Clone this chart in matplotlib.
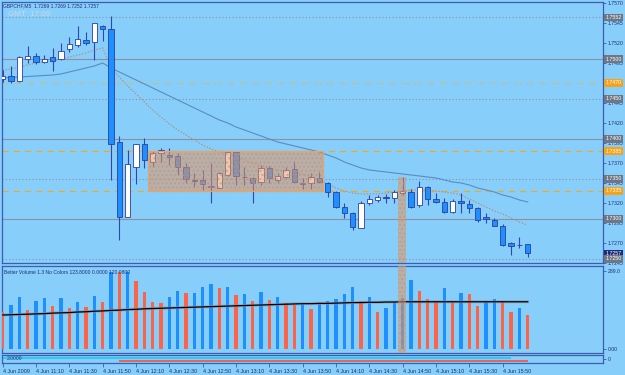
import matplotlib
matplotlib.use("Agg")
import matplotlib.pyplot as plt
import matplotlib.transforms as mtransforms
from matplotlib.patches import Rectangle

plt.rcParams["font.family"] = ["Liberation Sans", "DejaVu Sans"]

# ---------------- data ----------------
symbol_title = "GBPCHF,M5  1.7269 1.7269 1.7252 1.7257"
gmt_text = "GMT  17:09"

opens = [1.7475, 1.7479, 1.7472, 1.7500, 1.7504, 1.7496, 1.7503, 1.7500, 1.7513, 1.7518,
         1.7524, 1.7521, 1.7541, 1.7537, 1.7396, 1.7302, 1.7365, 1.7394, 1.7371, 1.7383,
         1.7380, 1.7379, 1.7365, 1.7349, 1.7349, 1.7340, 1.7339, 1.7355, 1.7384, 1.7353,
         1.7351, 1.7346, 1.7364, 1.7349, 1.7353, 1.7363, 1.7345, 1.7345, 1.7351, 1.7345,
         1.7334, 1.7315, 1.7308, 1.7289, 1.7320, 1.7324, 1.7328, 1.7326, 1.7333, 1.7334,
         1.7318, 1.7340, 1.7325, 1.7321, 1.7309, 1.7323, 1.7319, 1.7314, 1.7303, 1.7299,
         1.7291, 1.7270, 1.7268, 1.7269]
highs = [1.7486, 1.7491, 1.7504, 1.7516, 1.7508, 1.7505, 1.7514, 1.7520, 1.7528, 1.7541,
         1.7534, 1.7545, 1.7543, 1.7554, 1.7404, 1.7386, 1.7394, 1.7401, 1.7385, 1.7389,
         1.7389, 1.7383, 1.7370, 1.7357, 1.7361, 1.7370, 1.7359, 1.7385, 1.7385, 1.7365,
         1.7352, 1.7368, 1.7366, 1.7357, 1.7365, 1.7373, 1.7351, 1.7357, 1.7359, 1.7346,
         1.7335, 1.7320, 1.7309, 1.7323, 1.7330, 1.7330, 1.7331, 1.7336, 1.7353, 1.7338,
         1.7348, 1.7341, 1.7333, 1.7326, 1.7325, 1.7333, 1.7324, 1.7315, 1.7308, 1.7301,
         1.7294, 1.7271, 1.7278, 1.7269]
lows = [1.7471, 1.7470, 1.7471, 1.7495, 1.7494, 1.7495, 1.7485, 1.7499, 1.7509, 1.7515,
        1.7518, 1.7499, 1.7522, 1.7349, 1.7274, 1.7302, 1.7344, 1.7364, 1.7365, 1.7371,
        1.7368, 1.7355, 1.7345, 1.7340, 1.7336, 1.7320, 1.7339, 1.7354, 1.7343, 1.7343,
        1.7320, 1.7343, 1.7345, 1.7345, 1.7351, 1.7345, 1.7338, 1.7338, 1.7345, 1.7328,
        1.7314, 1.7301, 1.7286, 1.7289, 1.7318, 1.7321, 1.7320, 1.7320, 1.7330, 1.7314,
        1.7315, 1.7318, 1.7320, 1.7308, 1.7308, 1.7308, 1.7308, 1.7296, 1.7295, 1.7291,
        1.7266, 1.7255, 1.7264, 1.7252]
closes = [1.7479, 1.7472, 1.7503, 1.7504, 1.7496, 1.7500, 1.7498, 1.7510, 1.7519, 1.7525,
          1.7520, 1.7545, 1.7538, 1.7394, 1.7303, 1.7369, 1.7394, 1.7374, 1.7383, 1.7386,
          1.7378, 1.7365, 1.7350, 1.7348, 1.7344, 1.7341, 1.7358, 1.7384, 1.7354, 1.7352,
          1.7345, 1.7364, 1.7351, 1.7354, 1.7361, 1.7346, 1.7344, 1.7353, 1.7346, 1.7334,
          1.7315, 1.7308, 1.7290, 1.7320, 1.7325, 1.7328, 1.7326, 1.7334, 1.7335, 1.7315,
          1.7340, 1.7325, 1.7321, 1.7309, 1.7323, 1.7320, 1.7314, 1.7299, 1.7300, 1.7291,
          1.7268, 1.7266, 1.7267, 1.7257]

ma_slow = [1.74763, 1.74769, 1.74775, 1.74781, 1.74788, 1.74794, 1.74800, 1.74813, 1.74838, 1.74863,
           1.74888, 1.74913, 1.74950, 1.74888, 1.74838, 1.74788, 1.74738, 1.74688, 1.74638, 1.74588,
           1.74538, 1.74488, 1.74438, 1.74388, 1.74338, 1.74288, 1.74238, 1.74200, 1.74150, 1.74113,
           1.74075, 1.74038, 1.74000, 1.73963, 1.73938, 1.73913, 1.73888, 1.73863, 1.73838, 1.73800,
           1.73763, 1.73713, 1.73675, 1.73638, 1.73613, 1.73600, 1.73588, 1.73575, 1.73563, 1.73550,
           1.73538, 1.73525, 1.73513, 1.73488, 1.73463, 1.73450, 1.73425, 1.73388, 1.73363, 1.73338,
           1.73300, 1.73275, 1.73238, 1.73213]
ma_fast = [1.74863, 1.74875, 1.74900, 1.74925, 1.74950, 1.74963, 1.74975, 1.75000, 1.75025, 1.75050,
           1.75075, 1.75113, 1.75138, 1.74888, 1.74775, 1.74663, 1.74563, 1.74463, 1.74363, 1.74275,
           1.74188, 1.74113, 1.74050, 1.73988, 1.73925, 1.73875, 1.73838, 1.73813, 1.73775, 1.73738,
           1.73700, 1.73663, 1.73638, 1.73613, 1.73600, 1.73588, 1.73563, 1.73525, 1.73488, 1.73438,
           1.73388, 1.73350, 1.73325, 1.73313, 1.73313, 1.73313, 1.73325, 1.73338, 1.73350, 1.73363,
           1.73363, 1.73363, 1.73350, 1.73338, 1.73325, 1.73300, 1.73250, 1.73200, 1.73150, 1.73100,
           1.73063, 1.73013, 1.72963, 1.72925]

volumes = [138, 163, 191, 144, 178, 190, 159, 188, 151, 175, 157, 198, 175, 286, 284, 286,
           252, 212, 175, 169, 191, 215, 206, 206, 229, 240, 225, 231, 200, 204, 178, 210,
           182, 191, 169, 163, 166, 148, 172, 178, 184, 204, 231, 178, 191, 136, 151, 175,
           188, 256, 215, 185, 175, 227, 175, 209, 204, 161, 179, 184, 178, 136, 153, 126]
vol_colors = list("rbbrbbrbrbrbrbrbrrrrbbrbbbrbrbrbrbrrbrbbbbbrbrbbbbrrrbrbrrbbrrbr")
vol_ma = [126, 127, 128, 129, 130, 131, 133, 134, 135, 137, 138, 140, 141, 143, 144, 146,
          147, 149, 150, 151, 152, 153, 154, 155, 156, 157, 158, 159, 160, 161, 162, 163,
          164, 165, 166, 167, 168, 168, 169, 169, 170, 171, 172, 172, 173, 173, 174, 174,
          175, 175, 175, 175, 175, 175, 175, 175, 175, 175, 175, 175, 175, 175, 175, 175]

price_ticks = [1.7570, 1.7545, 1.7520, 1.7495, 1.7445, 1.7420, 1.7395,
               1.7370, 1.7345, 1.7320, 1.7295, 1.7270, 1.7245]
solid_levels = [1.7500, 1.7400, 1.7300]
dotted_levels = [1.7552, 1.7450, 1.7350, 1.7250]
orange_dashed_levels = [1.7385, 1.7335]
orange_dotted_levels = [1.7470]
box_labels = [(1.7552, "1.7552", "#6f7784"), (1.7500, "1.7500", "#6f7784"),
              (1.7470, "1.7470", "#f5a31a"), (1.7450, "1.7450", "#6f7784"),
              (1.7400, "1.7400", "#6f7784"), (1.7385, "1.7385", "#f5a31a"),
              (1.7350, "1.7350", "#6f7784"), (1.7335, "1.7335", "#f5a31a"),
              (1.7300, "1.7300", "#6f7784"), (1.7257, "1.7257", "#1c2a7a"),
              (1.7250, "1.7250", "#6f7784")]
zone_bars = (17.4, 38.4)
zone_prices = (1.7335, 1.7385)
vline_bars = (47.4, 48.4)
vline_top = 1.7352

xtick_bars = [0, 4, 8, 12, 16, 20, 24, 28, 32, 36, 40, 44, 48, 52, 56, 60]
xtick_labels = ["4 Jun 2009", "4 Jun 11:10", "4 Jun 11:30", "4 Jun 11:50", "4 Jun 12:10",
                "4 Jun 12:30", "4 Jun 12:50", "4 Jun 13:10", "4 Jun 13:30", "4 Jun 13:50",
                "4 Jun 14:10", "4 Jun 14:30", "4 Jun 14:50", "4 Jun 15:10", "4 Jun 15:30",
                "4 Jun 15:50"]
vol_title = "Better Volume 1.3 No Colors 123.8000 0.0000 120.0800"
sig_title = "2.0000"
sig_cyan_range = (0, 61)
sig_red_range = (14, 63)

# ---------------- style ----------------
BG = "#87CEFA"
FRAME = "#3f5cae"
TXT = "#1f2f7a"
W, H = 625, 375
FS = 3.7
FS_BOX = 3.8
FS_SMALL = 3.6

fig = plt.figure(figsize=(6.25, 3.75), dpi=100, facecolor=BG)


def px_axes(left, top, right, bottom):
    return fig.add_axes([left / W, 1 - bottom / H, (right - left) / W, (bottom - top) / H])


xlim = (-0.084, 72.04)
ax = px_axes(2, 2, 603, 263)
axv = px_axes(2, 266, 603, 353)
axs = px_axes(2, 355, 603, 363)

for a in (ax, axv, axs):
    a.set_facecolor(BG)
    a.set_xlim(*xlim)
    for s in a.spines.values():
        s.set_color(FRAME)
        s.set_linewidth(0.9)
    a.tick_params(axis="both", colors=FRAME, labelcolor=TXT, labelsize=FS,
                  length=2, width=0.6, pad=1.5)
    a.yaxis.tick_right()

ax.set_ylim(1.7245, 1.757125)
ax.set_xticks([])
ax.set_yticks(price_ticks)
ax.set_yticklabels([f"{p:.4f}" for p in price_ticks])

n = len(opens)
xs = list(range(n))

# horizontal levels
for lv in solid_levels:
    ax.axhline(lv, color="#8b91a3", lw=0.8, zorder=1)
for lv in dotted_levels:
    ax.axhline(lv, color="#8b91a3", lw=0.8, ls=(0, (1, 2)), zorder=1)
for lv in orange_dashed_levels:
    ax.axhline(lv, color="#f0a82c", lw=0.9, ls=(0, (5, 4)), zorder=1)
for lv in orange_dotted_levels:
    ax.axhline(lv, color="#e8b43c", lw=0.9, ls=(0, (1, 1, 1, 1, 1, 5)), zorder=1)

# moving averages
ax.plot(xs, ma_slow, color="#5b8cc0", lw=0.8, zorder=2)
ax.plot(xs, ma_fast, color="#b88a70", lw=0.8, ls=(0, (1.2, 1.5)), zorder=2)

# candles
WICK = "#3346b0"
for i in range(n):
    o, h, l, c = opens[i], highs[i], lows[i], closes[i]
    ax.vlines(i, l, h, color=WICK, lw=0.8, zorder=3)
    up = c >= o
    ax.bar(i, c - o, bottom=o, width=0.62,
           color="white" if up else "#1e8fff",
           edgecolor="#2a3f9f", linewidth=0.6, zorder=4)

# zone rectangle (semi-transparent overlay with dithered look)
zx0, zx1 = zone_bars
ax.add_patch(Rectangle((zx0, zone_prices[0]), zx1 - zx0, zone_prices[1] - zone_prices[0],
                       facecolor="#f0924d", alpha=0.52, edgecolor="none", zorder=5))
ax.add_patch(Rectangle((zx0, zone_prices[0]), zx1 - zx0, zone_prices[1] - zone_prices[0],
                       facecolor="none", edgecolor="#9a9cb4", hatch="....", lw=0, zorder=5, alpha=0.6))
ax.add_patch(Rectangle((zx0, zone_prices[0]), zx1 - zx0, zone_prices[1] - zone_prices[0],
                       facecolor="none", edgecolor="#f0a060", lw=0.8, zorder=6))

vx0, vx1 = vline_bars
for a, y0, y1 in ((ax, 1.7245, vline_top), (axv, -14.8, 307.5)):
    a.add_patch(Rectangle((vx0, y0), vx1 - vx0, y1 - y0, facecolor="#f0924d",
                          alpha=0.52, edgecolor="none", zorder=5))
    a.add_patch(Rectangle((vx0, y0), vx1 - vx0, y1 - y0, facecolor="none",
                          edgecolor="#9a9cb4", hatch="....", lw=0, zorder=5, alpha=0.6))

# right-axis price boxes
tr = mtransforms.blended_transform_factory(ax.transAxes, ax.transData)
for p, lab, col in box_labels:
    ax.text(1.004, p, lab, transform=tr, ha="left", va="center", fontsize=FS_BOX,
            color="white", zorder=10, clip_on=False,
            bbox=dict(boxstyle="square,pad=0.25", fc=col, ec="none"))

# titles
fig.text(3 / W, 1 - 6 / H, symbol_title, fontsize=FS_SMALL, color=TXT, va="center", ha="left")
fig.text(8 / W, 1 - 14.5 / H, gmt_text, fontsize=5.8, color="#cbd8e6", va="center", ha="left")

# volume panel
axv.set_ylim(-14.8, 307.5)
axv.set_xticks([])
axv.set_yticks([0, 289])
axv.set_yticklabels(["0.00", "289.0"])
cmap = {"r": "#ff6347", "b": "#1e8fff"}
axv.bar(xs, volumes, width=0.4, color=[cmap[c] for c in vol_colors], zorder=3)
axv.plot(xs, vol_ma, color="#8a93a6", lw=2.2, alpha=0.6, zorder=4)
axv.plot(xs, vol_ma, color="black", lw=0.9, zorder=4)
axv.text(2 / 601, 1 - 7 / 87, vol_title, transform=axv.transAxes, fontsize=FS_SMALL,
         color=TXT, va="center", ha="left")

# signal panel
axs.set_ylim(0, 3)
axs.set_yticks([1.5])
axs.set_yticklabels(["0"])
axs.hlines(1.8, sig_cyan_range[0] - 0.5, sig_cyan_range[1], color="#18c8f0", lw=1.1)
axs.hlines(0.9, sig_red_range[0], sig_red_range[1], color="#ff4a2a", lw=1.1)
axs.text(5 / 601, 0.6, sig_title, transform=axs.transAxes, fontsize=FS_SMALL,
         color=TXT, va="center", ha="left")
axs.set_xticks(xtick_bars)
axs.set_xticklabels(xtick_labels, ha="left")
axs.tick_params(axis="x", length=3, pad=1.5, labelsize=3.9)

fig.savefig("out.png", dpi=100, facecolor=BG)
